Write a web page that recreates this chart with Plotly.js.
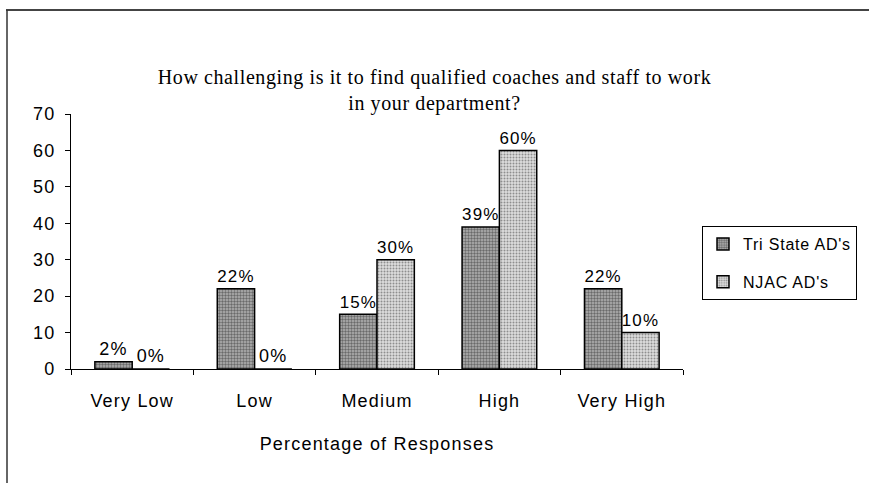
<!DOCTYPE html>
<html>
<head>
<meta charset="utf-8">
<script src="https://cdn.plot.ly/plotly-3.0.1.min.js"></script>
<style>
html,body{margin:0;padding:0;background:#fff;}
#chart{width:869px;height:483px;}
svg text{letter-spacing:1.2px;}
svg .gtitle{letter-spacing:0.6px;}
svg .legendtext{letter-spacing:0.8px;}
</style>
</head>
<body>
<div id="chart"></div>
<script>
const categories = ["Very Low", "Low", "Medium", "High", "Very High"];
const triState = [2, 22, 15, 39, 22];
const njac = [0, 0, 30, 60, 10];
const seriesNames = ["Tri State AD's", "NJAC AD's"];
const yTicks = [0, 10, 20, 30, 40, 50, 60, 70];

const W = 869, H = 483;
const L = 71, R = 186, T = 114, B = 114;
const pw = W - L - R, ph = H - T - B;
const px = x => (x - L) / pw;
const py = y => (H - B - y) / ph;

const traces = [
  {
    type: 'bar', x: categories, y: triState, name: seriesNames[0], legendgroup: 'a',
    marker: {color: '#9a9a9a', line: {color: '#000', width: 1.5},
      pattern: {shape: '.', bgcolor: '#b4b4b4', fgcolor: '#6a6a6a', size: 3, solidity: 0.5}},
    texttemplate: '%{y}%', textposition: 'outside', cliponaxis: false,
    textfont: {family: 'Liberation Sans, Arial', size: 18, color: '#000'}
  },
  {
    type: 'bar', x: categories, y: njac, name: seriesNames[1], legendgroup: 'b',
    marker: {color: '#cfcfcf', line: {color: '#000', width: 1.5},
      pattern: {shape: '.', bgcolor: '#dedede', fgcolor: '#8e8e8e', size: 3, solidity: 0.35}},
    texttemplate: '%{y}%', textposition: 'outside', cliponaxis: false,
    textfont: {family: 'Liberation Sans, Arial', size: 18, color: '#000'}
  }
];

const layout = {
  width: W, height: H,
  margin: {l: L, r: R, t: T, b: B, autoexpand: false},
  paper_bgcolor: '#fff', plot_bgcolor: '#fff',
  showlegend: true,
  barmode: 'group', bargap: 0.39, bargroupgap: 0,
  title: {
    text: 'How challenging is it to find qualified coaches and staff to work<br>in your department?',
    font: {family: 'Liberation Serif, Times New Roman', size: 20, color: '#000'},
    x: 0.5, xref: 'container', xanchor: 'center',
    y: 1 - 84 / H, yref: 'container', yanchor: 'top'
  },
  font: {family: 'Liberation Sans, Arial', size: 18, color: '#000'},
  xaxis: {
    type: 'category', showgrid: false, zeroline: false,
    showline: true, linecolor: '#000', linewidth: 1,
    ticks: 'outside', tickson: 'boundaries', ticklen: 5, tickcolor: '#000',
    ticklabelstandoff: 15,
    tickfont: {size: 18},
    title: {text: 'Percentage of Responses', font: {size: 18}, standoff: 27}
  },
  yaxis: {
    range: [0, 70], tickvals: yTicks, showgrid: false, zeroline: false,
    showline: true, linecolor: '#000', linewidth: 1,
    ticks: 'outside', ticklen: 5, tickcolor: '#000',
    ticklabelstandoff: 6,
    tickfont: {size: 18}
  },
  legend: {
    x: px(702), y: py(226), xanchor: 'left', yanchor: 'top',
    bordercolor: '#000', borderwidth: 1, bgcolor: '#fff',
    font: {size: 16}, traceorder: 'grouped', tracegroupgap: 14,
    itemwidth: 30
  },
  shapes: [
    {type: 'line', xref: 'paper', yref: 'paper', x0: px(6), x1: px(869), y0: py(10), y1: py(10), line: {color: '#444', width: 2}},
    {type: 'line', xref: 'paper', yref: 'paper', x0: px(7), x1: px(7), y0: py(10), y1: py(483), line: {color: '#333', width: 1.5}}
  ]
};

Plotly.newPlot('chart', traces, layout, {displayModeBar: false, staticPlot: true});
</script>
</body>
</html>
